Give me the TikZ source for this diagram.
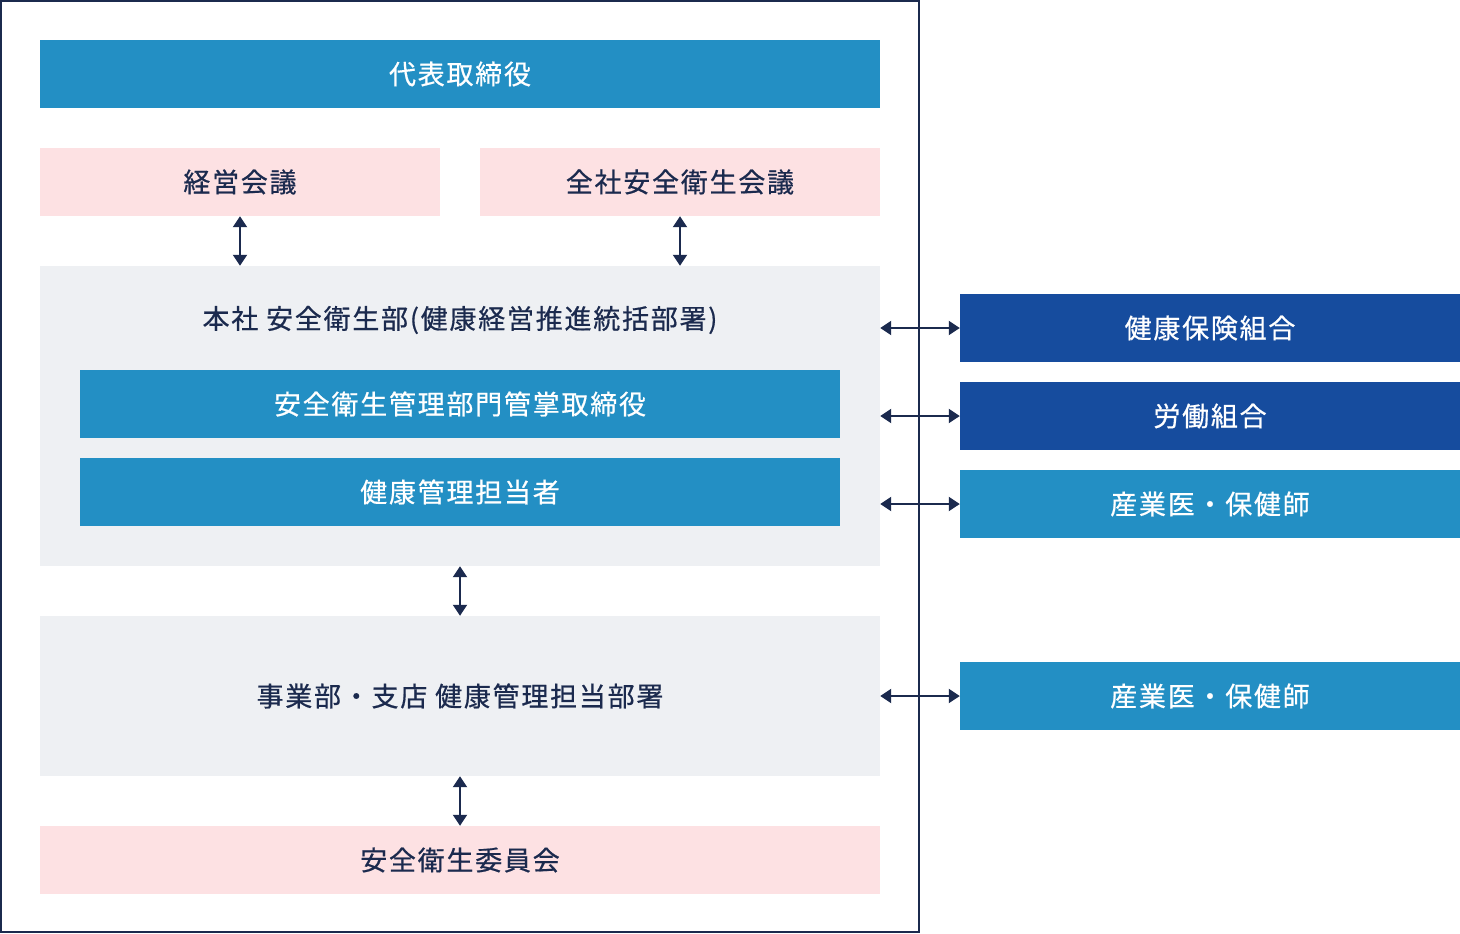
\documentclass[tikz,border=0pt]{standalone}
\usepackage{fontspec}
\newfontfamily\cjk[LetterSpace=6.5,FakeBold=0.6]{Noto Sans CJK JP}
\usetikzlibrary{arrows.meta}
\definecolor{bluebox}{HTML}{238FC4}
\definecolor{darkblue}{HTML}{164C9E}
\definecolor{pinkbox}{HTML}{FDE1E3}
\definecolor{graybox}{HTML}{EEF0F3}
\definecolor{navy}{HTML}{1B2A4E}
\begin{document}
\begin{tikzpicture}[x=1pt,y=-1pt,
  box/.style={inner sep=0pt, minimum height=68pt, font=\cjk\fontsize{27}{30}\selectfont},
  bluefill/.style={box, fill=bluebox, text=white},
  darkfill/.style={box, fill=darkblue, text=white},
  pinkfill/.style={box, fill=pinkbox, text=navy},
  grayfill/.style={inner sep=0pt, fill=graybox},
  label/.style={text=navy, font=\cjk\fontsize{27}{30}\selectfont, inner sep=0pt},
  arr/.style={draw=navy, line width=2pt, {Triangle[width=14pt,length=11pt]}-{Triangle[width=14pt,length=11pt]}}
]
\useasboundingbox (0,0) rectangle (1460,934);
\fill[white] (0,0) rectangle (1460,934);
% outer frame
\draw[navy, line width=2pt] (1,1) rectangle (919,932);
% top
\node[bluefill, minimum width=840pt] (ceo) at (460,74) {代表取締役};
\node[pinkfill, minimum width=400pt] (keiei) at (240,182) {経営会議};
\node[pinkfill, minimum width=400pt] (zensha) at (680,182) {全社安全衛生会議};
% headquarters
\node[grayfill, minimum width=840pt, minimum height=300pt] (hq) at (460,416) {};
\node[label] (hqtitle) at (460,320) {本社 安全衛生部(健康経営推進統括部署)};
\node[bluefill, minimum width=760pt] (torishimari) at (460,404) {安全衛生管理部門管掌取締役};
\node[bluefill, minimum width=760pt] (tanto) at (460,492) {健康管理担当者};
% division
\node[grayfill, minimum width=840pt, minimum height=160pt] (div) at (460,696) {};
\node[label] (divtitle) at (460,696) {事業部・支店 健康管理担当部署};
\node[pinkfill, minimum width=840pt] (iinkai) at (460,860) {安全衛生委員会};
% right side
\node[darkfill, minimum width=500pt] (kenpo) at (1210,328) {健康保険組合};
\node[darkfill, minimum width=500pt] (rodo) at (1210,416) {労働組合};
\node[bluefill, minimum width=500pt] (sangyoA) at (1210,504) {産業医・保健師};
\node[bluefill, minimum width=500pt] (sangyoB) at (1210,696) {産業医・保健師};
% vertical arrows
\draw[arr] (keiei.south) -- (keiei.south |- hq.north);
\draw[arr] (zensha.south) -- (zensha.south |- hq.north);
\draw[arr] (hq.south) -- (div.north);
\draw[arr] (div.south) -- (iinkai.north);
% horizontal arrows
\draw[arr] (kenpo.west -| hq.east) -- (kenpo.west);
\draw[arr] (rodo.west -| hq.east) -- (rodo.west);
\draw[arr] (sangyoA.west -| hq.east) -- (sangyoA.west);
\draw[arr] (sangyoB.west -| div.east) -- (sangyoB.west);
\end{tikzpicture}
\end{document}
